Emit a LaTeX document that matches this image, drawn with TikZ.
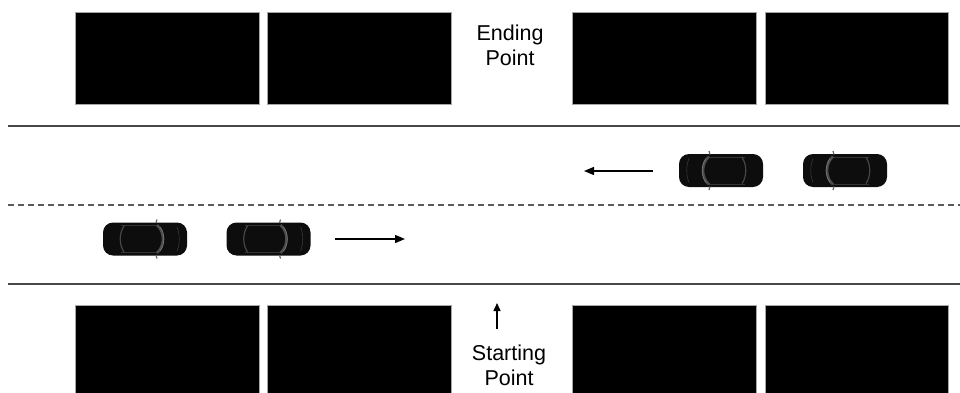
\documentclass[tikz,border=0pt]{standalone}
\usepackage{fontspec}
\setmainfont{Liberation Sans}
\usetikzlibrary{arrows.meta}
\begin{document}
\begin{tikzpicture}[x=1pt,y=-1pt,
  lot/.style={fill=black,draw=gray!70,line width=0.8pt},
  roadline/.style={draw=black!72,line width=1.8pt},
  centerline/.style={draw=black!65,line width=1.6pt,dash pattern=on 6pt off 4pt},
  motion/.style={line width=1.4pt,-{Triangle[length=10pt,width=8pt]}},
  label/.style={align=center,font=\fontsize{21.5}{25}\selectfont,inner sep=0pt},
  car/.pic={
    % body
    \fill[black!95,rounded corners=10pt] (-42,-16.5) rectangle (42,16.5);
    % side highlights along the roof edges
    \draw[black!80,line width=0.6pt] (-24,-13.5) -- (12,-13.5);
    \draw[black!80,line width=0.6pt] (-24,13.5) -- (12,13.5);
    % rear window
    \draw[black!72,line width=1.2pt] (-21,-13) .. controls (-26,-6) and (-26,6) .. (-21,13);
    % windshield
    \draw[black!70,line width=2.6pt] (12,-14) .. controls (20,-7) and (20,7) .. (12,14);
    \draw[black!55,line width=0.7pt] (15,-12) .. controls (20,-6) and (20,6) .. (15,12);
    % bonnet edge
    \draw[black!78,line width=0.6pt] (32,-12) .. controls (35,-5) and (35,5) .. (32,12);
    % mirrors
    \draw[black!60,line width=1.2pt] (11,-16) -- (12,-19.5);
    \draw[black!60,line width=1.2pt] (11,16) -- (12,19.5);
  }]
\useasboundingbox (0,0) rectangle (960,393);

% buildings along the top side
\path[lot] (75,12) rectangle (259,104);
\path[lot] (267,12) rectangle (451,104);
\path[lot] (572,12) rectangle (756,104);
\path[lot] (765,12) rectangle (948,104);
% buildings along the bottom side
\path[lot] (75,305) rectangle (259,400);
\path[lot] (267,305) rectangle (451,400);
\path[lot] (572,305) rectangle (756,400);
\path[lot] (765,305) rectangle (948,400);

% road edges and centre line
\draw[roadline] (8,126) -- (960,126);
\draw[centerline] (8,205) -- (960,205);
\draw[roadline] (8,284) -- (960,284);

% vehicles in the lower lane, heading right
\pic at (145,239) {car};
\pic at (268.5,239) {car};
% vehicles in the upper lane, heading left
\pic[xscale=-1] at (721,170.5) {car};
\pic[xscale=-1] at (845,170.5) {car};

% direction of travel
\coordinate (lowS) at (335,239);
\coordinate (lowE) at (405,239);
\coordinate (upS) at (653,171);
\coordinate (upE) at (584,171);
\draw[motion] (lowS) -- (lowE);
\draw[motion] (upS) -- (upE);

% start and end labels
\node[label] (endpt) at (510,45) {Ending\\Point};
\node[label] (startpt) at (509,365) {Starting\\Point};
\coordinate (startS) at (497,329);
\coordinate (startE) at (497,303);
\draw[line width=1.4pt,-{Triangle[length=8pt,width=7pt]}] (startS) -- (startE);
\end{tikzpicture}
\end{document}
